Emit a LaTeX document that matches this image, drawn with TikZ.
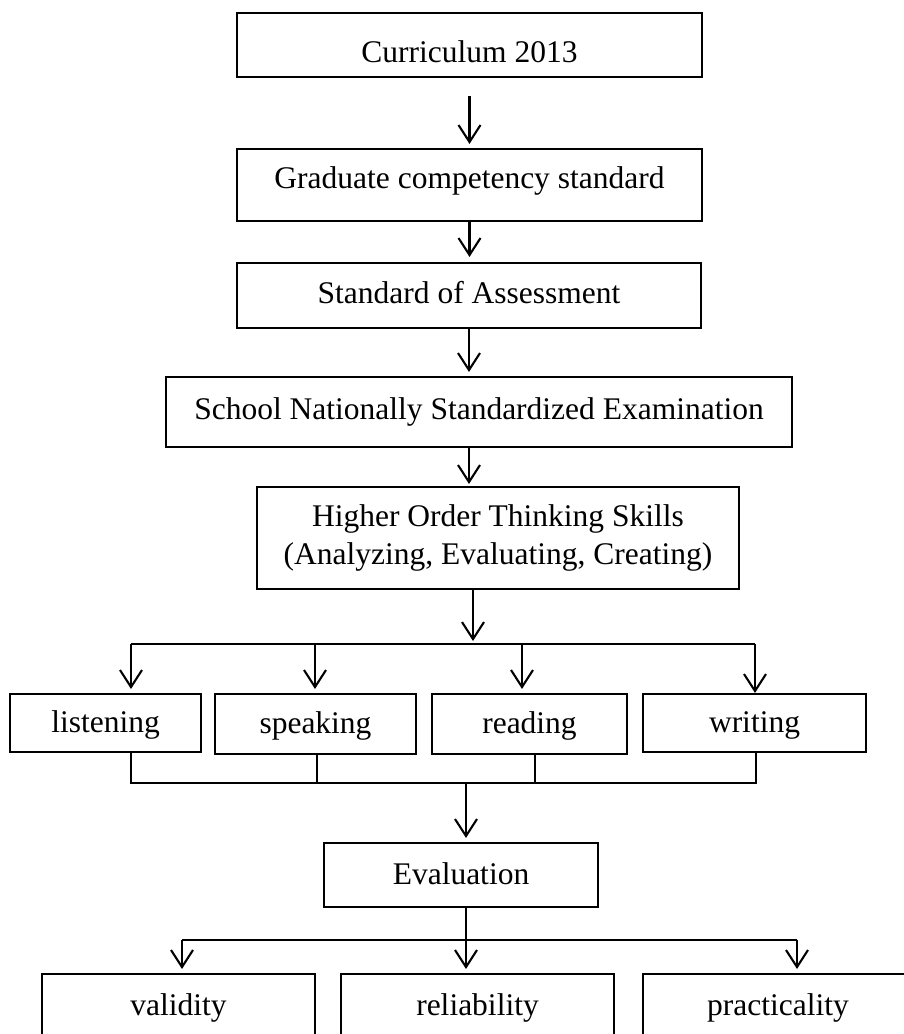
\documentclass[tikz,border=0pt]{standalone}
\usepackage{fontspec}
\setmainfont{Liberation Serif}
\usetikzlibrary{arrows.meta}
\begin{document}
\begin{tikzpicture}[x=1pt,y=-1pt,
  box/.style={draw, line width=2.1pt, inner sep=0pt,
    font=\fontsize{31.5}{38}\selectfont},
  one/.style={text height=25pt, text depth=7pt},
  link/.style={line width=2.1pt},
  arr/.style={line width=2.1pt,
    -{Straight Barb[length=17pt,width=22pt,line width=2.1pt]}}]

\useasboundingbox (0,0) rectangle (904,1034);
\clip (0,0) rectangle (904,1034);

% main chain
\node[box,one,minimum width=465pt,minimum height=64pt] (cur) at (469.5,45)
  {\raisebox{-8pt}{Curriculum 2013}};
\node[box,one,minimum width=465pt,minimum height=72pt] (grad) at (469.5,185)
  {\raisebox{6pt}{Graduate competency standard}};
\node[box,one,minimum width=464pt,minimum height=65pt] (std) at (469,295.5)
  {\raisebox{1.5pt}{Standard of Assessment}};
\node[box,one,minimum width=626pt,minimum height=70pt] (school) at (479,412)
  {\raisebox{2pt}{School Nationally Standardized Examination}};
\node[box,align=center,minimum width=482pt,minimum height=102pt] (hots) at (498,538)
  {Higher Order Thinking Skills\\(Analyzing, Evaluating, Creating)};

% four language skills
\node[box,one,minimum width=191pt,minimum height=58pt] (lis) at (105.5,723) {listening};
\node[box,one,minimum width=201pt,minimum height=60pt] (spk) at (315.5,724) {speaking};
\node[box,one,minimum width=195pt,minimum height=60pt] (rea) at (529.5,724) {reading};
\node[box,one,minimum width=223pt,minimum height=58pt] (wri) at (754.5,723) {writing};

% evaluation and its criteria
\node[box,one,minimum width=274pt,minimum height=64pt] (eva) at (461,875) {Evaluation};
\node[box,one,minimum width=273pt,minimum height=64pt] (val) at (178.5,1006) {validity};
\node[box,one,minimum width=273pt,minimum height=64pt] (rel) at (477.5,1006) {reliability};
\node[box,one,minimum width=270pt,minimum height=64pt] (pra) at (778,1006) {practicality};

% chain arrows
\draw[arr] ([yshift=-18pt]cur.south) -- ([yshift=4pt]grad.north);
\draw[arr] (grad.south) -- ([yshift=5pt]grad.south |- std.north);
\draw[arr] (std.south) -- ([yshift=4pt]std.south |- school.north);
\draw[arr] (std.south |- school.south) -- ([yshift=2pt]std.south |- hots.north);

% split into the four skills
\coordinate (ba) at (473,644);
\coordinate (l1) at (131,644);
\coordinate (l2) at (315,644);
\coordinate (l3) at (522,644);
\coordinate (l4) at (755,644);
\draw[arr] (hots.south -| ba) -- ([yshift=3pt]ba);
\draw[link] (l1) -- (l4);
\draw[arr] (l1) -- ([yshift=4pt]l1 |- lis.north);
\draw[arr] (l2) -- ([yshift=4pt]l2 |- spk.north);
\draw[arr] (l3) -- ([yshift=4pt]l3 |- rea.north);
\draw[arr] (l4) -- (l4 |- wri.north);

% gather the four skills
\coordinate (m1) at (131,783);
\coordinate (m2) at (317,783);
\coordinate (m3) at (535,783);
\coordinate (m4) at (756,783);
\coordinate (mc) at (466,783);
\draw[link] (m1 |- lis.south) -- (m1) -- (m4) -- (m4 |- wri.south);
\draw[link] (m2 |- spk.south) -- (m2);
\draw[link] (m3 |- rea.south) -- (m3);
\draw[arr] (mc) -- ([yshift=4pt]mc |- eva.north);

% split into the three criteria
\coordinate (e0) at (466,940);
\coordinate (e1) at (182,940);
\coordinate (e2) at (797,940);
\draw[link] (eva.south -| e0) -- (e0);
\draw[link] (e1) -- (e2);
\draw[arr] (e1) -- ([yshift=4pt]e1 |- val.north);
\draw[arr] (e0) -- ([yshift=4pt]e0 |- rel.north);
\draw[arr] (e2) -- ([yshift=4pt]e2 |- pra.north);
\end{tikzpicture}
\end{document}
